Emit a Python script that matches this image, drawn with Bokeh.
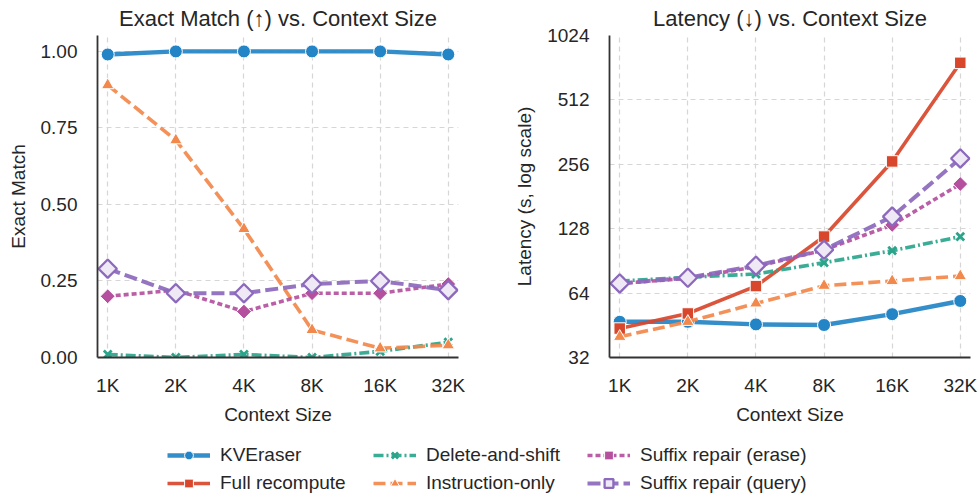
import numpy as np
from bokeh.plotting import figure
from bokeh.models import (ColumnDataSource, FixedTicker, PrintfTickFormatter,
                          Range1d, Legend, LegendItem)
from bokeh.layouts import column, row
from bokeh.embed import file_html
from bokeh.resources import INLINE

# ---------------- data ----------------
contexts = ["1K", "2K", "4K", "8K", "16K", "32K"]
x_idx = list(range(len(contexts)))

series_names = ["KVEraser", "Full recompute", "Delete-and-shift",
                "Instruction-only", "Suffix repair (erase)", "Suffix repair (query)"]

# Exact match (Full recompute not plotted in this panel)
em_kveraser = [0.99, 1.00, 1.00, 1.00, 1.00, 0.99]
em_delete_shift = [0.01, 0.00, 0.01, 0.00, 0.02, 0.05]
em_instruction = [0.89, 0.71, 0.42, 0.09, 0.03, 0.04]
em_suffix_erase = [0.20, 0.22, 0.15, 0.21, 0.21, 0.24]
em_suffix_query = [0.29, 0.21, 0.21, 0.24, 0.25, 0.22]

# Latency (seconds)
lat_kveraser = [47.0, 47.0, 45.7, 45.4, 51.0, 58.8]
lat_full = [43.7, 51.4, 69.0, 117.6, 264.0, 763.0]
lat_delete_shift = [72.9, 75.8, 78.6, 88.8, 101.0, 117.6]
lat_instruction = [40.0, 47.0, 57.3, 69.3, 72.9, 76.9]
lat_suffix_erase = [71.0, 75.0, 85.0, 101.8, 133.3, 207.0]
lat_suffix_query = [71.0, 75.5, 86.0, 102.0, 145.8, 272.6]

em_ticks = [0.0, 0.25, 0.5, 0.75, 1.0]
lat_ticks = [32, 64, 128, 256, 512, 1024]

em_data = {
    "KVEraser": em_kveraser,
    "Delete-and-shift": em_delete_shift,
    "Instruction-only": em_instruction,
    "Suffix repair (erase)": em_suffix_erase,
    "Suffix repair (query)": em_suffix_query,
}
lat_data = {
    "KVEraser": lat_kveraser,
    "Full recompute": lat_full,
    "Delete-and-shift": lat_delete_shift,
    "Instruction-only": lat_instruction,
    "Suffix repair (erase)": lat_suffix_erase,
    "Suffix repair (query)": lat_suffix_query,
}

# ---------------- styles ----------------
STY = {
    "KVEraser": dict(color="#2384c6", width=4.4, dash="solid", marker="circle",
                     size=13, fill="#2384c6", mline="white", mlw=1.0, angle=0.0),
    "Full recompute": dict(color="#d8472b", width=3.6, dash="solid", marker="square",
                           size=11.5, fill="#d8472b", mline="white", mlw=1.0, angle=0.0),
    "Delete-and-shift": dict(color="#2aa58c", width=3.6, dash="10 3 2 3", marker="x",
                             size=11, fill="#2aa58c", mline="#2aa58c", mlw=2.8, angle=0.0),
    "Instruction-only": dict(color="#f2884b", width=3.6, dash="12 5", marker="triangle",
                             size=12.5, fill="#f2884b", mline="white", mlw=1.0, angle=0.0),
    "Suffix repair (erase)": dict(color="#b4509e", width=3.6, dash="5 3", marker="square",
                                  size=10.5, fill="#b4509e", mline="white", mlw=1.0, angle=np.pi / 4),
    "Suffix repair (query)": dict(color="#8c69bd", width=4.0, dash="13 5", marker="square",
                                  size=13, fill="#efe8f5", mline="#8c69bd", mlw=2.3, angle=np.pi / 4),
}

FONT = "Liberation Sans"
TITLE_FONT = "Liberation Sans, DejaVu Sans"
TXT = "#262626"


def draw(p, name, xs, ys):
    s = STY[name]
    src = ColumnDataSource(dict(x=xs, y=ys))
    lr = p.line("x", "y", source=src, line_color=s["color"], line_width=s["width"],
                line_dash=s["dash"], line_alpha=0.92, line_join="round")
    sr = p.scatter("x", "y", source=src, marker=s["marker"], size=s["size"],
                   fill_color=s["fill"], line_color=s["mline"], line_width=s["mlw"],
                   angle=s["angle"])
    return lr, sr


def style_fig(p, ylabel):
    p.title.text_font = TITLE_FONT
    p.title.text_font_size = "22px"
    p.title.text_font_style = "normal"
    p.title.text_color = TXT
    p.title.align = "center"
    p.title.vertical_align = "top"
    p.title.padding = 0
    p.title.standoff = 5
    p.outline_line_color = None
    p.background_fill_color = "white"
    for g in (p.xgrid, p.ygrid):
        g.grid_line_color = "#d6d6d6"
        g.grid_line_dash = "5 4"
        g.grid_line_width = 1.2
    for ax in (p.xaxis, p.yaxis):
        ax.axis_line_color = "#333333"
        ax.axis_line_width = 1.8
        ax.major_tick_line_color = None
        ax.minor_tick_line_color = None
        ax.major_tick_in = 0
        ax.major_tick_out = 0
        ax.minor_tick_in = 0
        ax.minor_tick_out = 0
        ax.major_label_text_font = FONT
        ax.major_label_text_font_size = "19px"
        ax.major_label_text_color = TXT
        ax.axis_label_text_font = FONT
        ax.axis_label_text_font_size = "19px"
        ax.axis_label_text_font_style = "normal"
        ax.axis_label_text_color = TXT
    p.xaxis.ticker = FixedTicker(ticks=x_idx)
    p.xaxis.major_label_overrides = {i: lab for i, lab in zip(x_idx, contexts)}
    p.xaxis.major_label_standoff = 17
    p.xaxis.axis_label = "Context Size"
    p.xaxis.axis_label_standoff = 5
    p.yaxis.axis_label = ylabel
    p.yaxis.major_label_standoff = 20
    p.yaxis.axis_label_standoff = 9


H = 430
common = dict(height=H, output_backend="svg", toolbar_location=None,
              min_border_top=35, min_border_bottom=73)

p1 = figure(width=490, x_range=Range1d(-0.15, 5.15), y_range=Range1d(0.0, 1.052),
            title="Exact Match (↑) vs. Context Size",
            min_border_left=97, min_border_right=32, **common)
style_fig(p1, "Exact Match")
p1.yaxis.ticker = FixedTicker(ticks=em_ticks)
p1.yaxis.formatter = PrintfTickFormatter(format="%.2f")
for name in series_names:
    if name in em_data:
        draw(p1, name, x_idx, em_data[name])

p2 = figure(width=489, x_range=Range1d(-0.15, 5.15), y_range=Range1d(32, 1024),
            y_axis_type="log", title="Latency (↓) vs. Context Size",
            min_border_left=119, min_border_right=9, **common)
style_fig(p2, "Latency (s, log scale)")
p2.yaxis.ticker = FixedTicker(ticks=lat_ticks)
p2.yaxis.formatter = PrintfTickFormatter(format="%d")
for name in series_names:
    draw(p2, name, x_idx, lat_data[name])

# ---------------- legend (separate strip) ----------------
# the series are re-drawn here far outside the visible ranges, only to feed the legend
leg = figure(width=979, height=65, x_range=Range1d(-100, -99), y_range=Range1d(-100, -99),
             output_backend="svg", toolbar_location=None,
             min_border_left=0, min_border_right=0, min_border_top=0, min_border_bottom=0)
leg.xaxis.visible = False
leg.yaxis.visible = False
leg.xgrid.visible = False
leg.ygrid.visible = False
leg.outline_line_color = None

items = []
for name in series_names:
    lr, sr = draw(leg, name, x_idx, lat_data[name])
    items.append(LegendItem(label=name, renderers=[lr, sr]))

col_x = [167, 373, 587]
for ci in range(3):
    lg = Legend(items=items[2 * ci:2 * ci + 2], location=(col_x[ci], 1),
                orientation="vertical", padding=0, margin=0, spacing=6,
                glyph_width=43, glyph_height=22, label_height=22, label_standoff=10,
                label_text_font=FONT, label_text_font_size="19px", label_text_color=TXT,
                border_line_color=None, background_fill_alpha=0.0)
    leg.add_layout(lg, "center")

layout = column(row(p1, p2), leg)
open("out.html", "w").write(file_html(layout, INLINE))
